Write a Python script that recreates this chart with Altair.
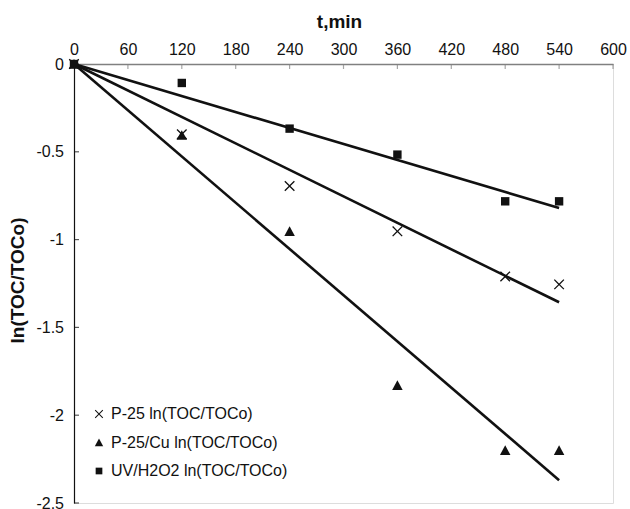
import altair as alt
import pandas as pd

# ---- data ----
times = [0, 120, 240, 360, 480, 540]
series_names = ["P-25 ln(TOC/TOCo)", "P-25/Cu ln(TOC/TOCo)", "UV/H2O2 ln(TOC/TOCo)"]
p25_vals = [0, -0.40, -0.695, -0.953, -1.21, -1.255]
p25cu_vals = [0, -0.405, -0.953, -1.83, -2.20, -2.20]
uv_vals = [0, -0.108, -0.368, -0.516, -0.782, -0.782]

fit_times = [0, 540]
fit_p25 = [0, -1.357]
fit_p25cu = [0, -2.37]
fit_uv = [0, -0.82]

x_tick_values = [0, 60, 120, 180, 240, 300, 360, 420, 480, 540, 600]
y_tick_values = [0, -0.5, -1, -1.5, -2, -2.5]

FONT = "Liberation Sans"
INK = "#111111"

points = pd.DataFrame({
    "t": times * 3,
    "v": p25_vals + p25cu_vals + uv_vals,
    "series": [series_names[0]] * 6 + [series_names[1]] * 6 + [series_names[2]] * 6,
})
fits = pd.DataFrame({
    "t": fit_times * 3,
    "v": fit_p25 + fit_p25cu + fit_uv,
    "series": [series_names[0]] * 2 + [series_names[1]] * 2 + [series_names[2]] * 2,
})
xticks_df = pd.DataFrame({"t": x_tick_values[1:]})
yticks_df = pd.DataFrame({"v": y_tick_values})

x_scale = alt.Scale(domain=[0, 600], nice=False, zero=False)
y_scale = alt.Scale(domain=[-2.5, 0], nice=False, zero=False)

x_axis = alt.Axis(
    orient="top", values=x_tick_values, tickSize=0, labelPadding=10,
    labelBaseline="alphabetic", labelFontSize=16, labelFont=FONT, labelColor=INK,
    labelFlush=False, labelOverlap=False, grid=False,
    domainColor="#808080", domainWidth=1.5,
    title="t,min", titleFont=FONT, titleFontSize=19, titleFontWeight="bold",
    titleColor=INK, titleX=265, titleY=-37, titleBaseline="alphabetic",
)
y_axis = alt.Axis(
    orient="left", values=y_tick_values, tickSize=0, labelPadding=10.5,
    labelExpr="toString(datum.value)", labelFontSize=16, labelFont=FONT,
    labelColor=INK, labelBaseline="middle", labelFlush=False, labelOverlap=False,
    grid=False, domainColor=INK, domainWidth=1.2,
    title="ln(TOC/TOCo)", titleFont=FONT, titleFontSize=19, titleFontWeight="bold",
    titleColor=INK, titleX=-51, titleY=216, titleBaseline="alphabetic", titleAlign="center",
)

# filled marker outlines (unit-square paths, scaled by the mark size)
x_cross = ("M-0.825,-1L0,-0.175L0.825,-1L1,-0.825L0.175,0L1,0.825L0.825,1"
           "L0,0.175L-0.825,1L-1,0.825L-0.175,0L-1,-0.825Z")
triangle = "M0,-0.95L1,0.9L-1,0.9Z"
square = "M-0.8,-0.8L0.8,-0.8L0.8,0.8L-0.8,0.8Z"

lines = alt.Chart(fits).mark_line(color=INK, strokeWidth=2.6).encode(
    x=alt.X("t:Q", scale=x_scale, axis=x_axis),
    y=alt.Y("v:Q", scale=y_scale, axis=y_axis),
    detail="series:N",
)

pts = alt.Chart(points).mark_point(
    filled=True, color=INK, opacity=1, size=110
).encode(
    x=alt.X("t:Q", scale=x_scale),
    y=alt.Y("v:Q", scale=y_scale),
    shape=alt.Shape(
        "series:N",
        scale=alt.Scale(domain=series_names, range=[x_cross, triangle, square]),
        legend=alt.Legend(
            title=None, orient="none", legendX=17, legendY=342, padding=0,
            labelFont=FONT, labelFontSize=16, labelColor=INK, labelLimit=400,
            symbolSize=70, symbolFillColor=INK, symbolOpacity=1,
            rowPadding=12.5, labelOffset=4,
        ),
    ),
)

xticks = alt.Chart(xticks_df).mark_tick(
    orient="vertical", size=5, thickness=1.2, color="#808080", yOffset=2.5
).encode(x=alt.X("t:Q", scale=x_scale), y=alt.datum(0))

yticks = alt.Chart(yticks_df).mark_tick(
    orient="horizontal", size=5, thickness=1.2, color=INK, xOffset=2.5
).encode(y=alt.Y("v:Q", scale=y_scale), x=alt.datum(0))

chart = alt.layer(lines, xticks, yticks, pts).properties(
    width=539, height=439,
    autosize=alt.AutoSizeParams(type="none"),
    padding={"left": 74, "top": 64, "right": 17, "bottom": 6},
).configure_view(stroke=None).configure(font=FONT, background="white")

chart.save("out.html", embed_options={"renderer": "svg", "actions": False})
